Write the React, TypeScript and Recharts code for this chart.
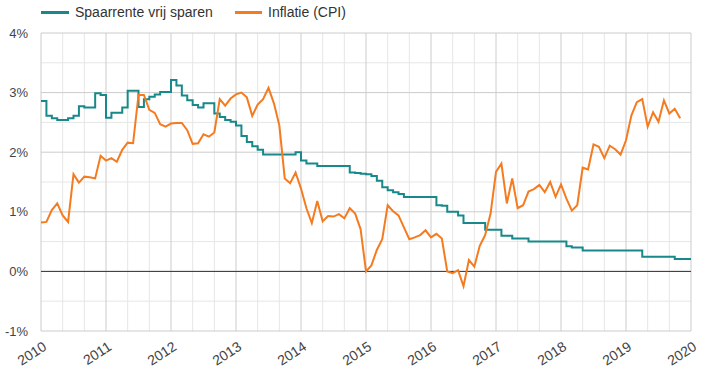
import { LineChart, Line, XAxis, YAxis, CartesianGrid, ReferenceLine } from 'recharts';

const jaren = ['2010', '2011', '2012', '2013', '2014', '2015', '2016', '2017', '2018', '2019', '2020'];

// maandelijks, jan 2010 t/m jan 2020
const spaarrente = [
  2.86, 2.61, 2.57, 2.54, 2.54, 2.57, 2.61, 2.77, 2.75, 2.75, 2.99, 2.96,
  2.58, 2.66, 2.66, 2.75, 3.03, 3.03, 2.76, 2.89, 2.93, 2.97, 3.01, 3.01,
  3.21, 3.12, 2.95, 2.87, 2.79, 2.75, 2.82, 2.82, 2.65, 2.59, 2.54, 2.51,
  2.45, 2.27, 2.17, 2.10, 2.04, 1.96, 1.96, 1.96, 1.96, 1.96, 1.96, 2.00,
  1.86, 1.81, 1.81, 1.77, 1.77, 1.77, 1.77, 1.77, 1.77, 1.66, 1.65, 1.64,
  1.63, 1.60, 1.52, 1.41, 1.36, 1.33, 1.30, 1.25, 1.25, 1.25, 1.25, 1.25,
  1.25, 1.11, 1.10, 1.00, 1.00, 0.94, 0.81, 0.81, 0.81, 0.81, 0.70, 0.70,
  0.70, 0.60, 0.60, 0.55, 0.55, 0.55, 0.50, 0.50, 0.50, 0.50, 0.50, 0.50,
  0.50, 0.42, 0.40, 0.40, 0.35, 0.35, 0.35, 0.35, 0.35, 0.35, 0.35, 0.35,
  0.35, 0.35, 0.35, 0.245, 0.245, 0.245, 0.245, 0.245, 0.245, 0.21, 0.21, 0.21,
  0.21,
];

const inflatie: (number | null)[] = [
  0.82, 0.83, 1.03, 1.14, 0.94, 0.83, 1.63, 1.49, 1.59, 1.58, 1.56, 1.94,
  1.86, 1.90, 1.84, 2.04, 2.16, 2.15, 2.96, 2.96, 2.71, 2.66, 2.47, 2.43,
  2.48, 2.49, 2.49, 2.37, 2.14, 2.15, 2.30, 2.26, 2.33, 2.89, 2.78, 2.90,
  2.97, 3.00, 2.92, 2.61, 2.80, 2.89, 3.08, 2.82, 2.45, 1.56, 1.48, 1.66,
  1.39, 1.06, 0.81, 1.18, 0.84, 0.93, 0.92, 0.96, 0.89, 1.06, 0.97, 0.71,
  0.00, 0.10, 0.36, 0.54, 1.11, 1.01, 0.94, 0.74, 0.54, 0.57, 0.61, 0.69,
  0.57, 0.63, 0.55, 0.00, -0.03, 0.02, -0.25, 0.19, 0.08, 0.43, 0.61, 0.97,
  1.67, 1.81, 1.14, 1.56, 1.06, 1.11, 1.34, 1.38, 1.45, 1.33, 1.50, 1.25,
  1.46, 1.22, 1.02, 1.11, 1.74, 1.71, 2.13, 2.09, 1.90, 2.11, 2.05, 1.96,
  2.20, 2.62, 2.84, 2.89, 2.43, 2.67, 2.51, 2.87, 2.65, 2.73, 2.57, null,
  null,
];

const yTicks = [-1, 0, 1, 2, 3, 4];
const yMinor = [-0.5, 0.5, 1.5, 2.5, 3.5];

const TEAL = '#17898b';
const ORANGE = '#f47b20';
const FONT = 'Arial, "Liberation Sans", sans-serif';

const data = spaarrente.map((v, i) => ({ m: i, spaarrente: v, inflatie: inflatie[i] ?? null }));
const xTicks = jaren.map((_, i) => i * 12);
const xMinor = xTicks.slice(0, -1).flatMap(t => [t + 4, t + 8]);

function YearTick({ x, y, payload }: any) {
  return (
    <g transform={`translate(${x},${y})`}>
      <text x={0} y={0} dy={12} textAnchor="end" transform="rotate(-33)" fill="#444" fontSize={14} fontFamily={FONT}>
        {jaren[Math.round(payload.value / 12)]}
      </text>
    </g>
  );
}

export default function App() {
  return (
    <div style={{ position: 'absolute', left: 0, top: 0, width: 706, height: 379, fontFamily: FONT, background: '#fff' }}>
      {/* Legend */}
      <div style={{ position: 'absolute', left: 41, top: 4, height: 16, display: 'flex', alignItems: 'center', fontSize: 14, color: '#333' }}>
        <span style={{ width: 28, height: 3, background: TEAL, display: 'inline-block', marginRight: 6 }}></span>
        <span>Spaarrente vrij sparen</span>
      </div>
      <div style={{ position: 'absolute', left: 235, top: 4, height: 16, display: 'flex', alignItems: 'center', fontSize: 14, color: '#333' }}>
        <span style={{ width: 27, height: 3, background: ORANGE, display: 'inline-block', marginRight: 6 }}></span>
        <span>Inflatie (CPI)</span>
      </div>

      <LineChart width={706} height={379} data={data} margin={{ top: 33, right: 15, bottom: 0, left: 0 }}>
        <CartesianGrid stroke="#e6e6e6" horizontalValues={yMinor} verticalValues={xMinor} />
        <CartesianGrid stroke="#cccccc" />
        <XAxis
          type="number"
          dataKey="m"
          domain={[0, 120]}
          ticks={xTicks}
          interval={0}
          tick={<YearTick />}
          axisLine={false}
          tickLine={false}
          tickSize={6}
          tickMargin={2}
          height={48}
        />
        <YAxis
          domain={[-1, 4]}
          ticks={yTicks}
          tickFormatter={(v: number) => `${v}%`}
          tick={{ fill: '#444', fontSize: 13, fontFamily: FONT }}
          axisLine={false}
          tickLine={false}
          tickSize={6}
          tickMargin={7}
          width={41}
        />
        <ReferenceLine y={0} stroke="#333" strokeWidth={1} />
        <Line type="stepAfter" dataKey="spaarrente" stroke={TEAL} strokeWidth={2} dot={false} isAnimationActive={false} />
        <Line type="linear" dataKey="inflatie" stroke={ORANGE} strokeWidth={2} dot={false} isAnimationActive={false} connectNulls={false} />
      </LineChart>
    </div>
  );
}
